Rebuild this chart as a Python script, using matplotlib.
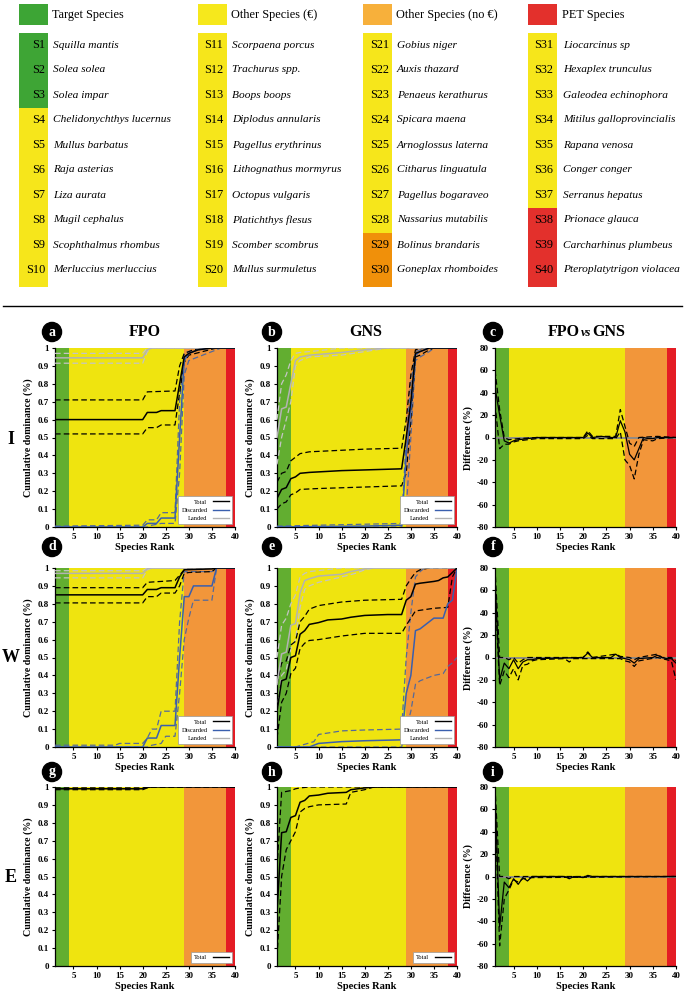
import matplotlib
matplotlib.use('Agg')
import matplotlib.pyplot as plt
from matplotlib.lines import Line2D
from matplotlib.patches import Rectangle

plt.rcParams['font.family'] = ['Liberation Serif', 'DejaVu Serif']

# ---------------- data ----------------
group_names = ['Target Species', 'Other Species (€)', 'Other Species (no €)', 'PET Species']
species = ['Squilla mantis', 'Solea solea', 'Solea impar', 'Chelidonychthys lucernus',
           'Mullus barbatus', 'Raja asterias', 'Liza aurata', 'Mugil cephalus',
           'Scophthalmus rhombus', 'Merluccius merluccius',
           'Scorpaena porcus', 'Trachurus spp.', 'Boops boops', 'Diplodus annularis',
           'Pagellus erythrinus', 'Lithognathus mormyrus', 'Octopus vulgaris',
           'Platichthys flesus', 'Scomber scombrus', 'Mullus surmuletus',
           'Gobius niger', 'Auxis thazard', 'Penaeus kerathurus', 'Spicara maena',
           'Arnoglossus laterna', 'Citharus linguatula', 'Pagellus bogaraveo',
           'Nassarius mutabilis', 'Bolinus brandaris', 'Goneplax rhomboides',
           'Liocarcinus sp', 'Hexaplex trunculus', 'Galeodea echinophora',
           'Mitilus galloprovincialis', 'Rapana venosa', 'Conger conger',
           'Serranus hepatus', 'Prionace glauca', 'Carcharhinus plumbeus',
           'Pteroplatytrigon violacea']
species_group = [0, 0, 0, 1, 1, 1, 1, 1, 1, 1,
                 1, 1, 1, 1, 1, 1, 1, 1, 1, 1,
                 1, 1, 1, 1, 1, 1, 1, 1, 2, 2,
                 1, 1, 1, 1, 1, 1, 1, 3, 3, 3]
# rank bands (x-range of each group in the panels)
band_edges = [1, 4, 29, 38, 40]

row_names = ['I', 'W', 'E']
col_titles = ['FPO', 'GNS']
panel_letters = ['a', 'b', 'c', 'd', 'e', 'f', 'g', 'h', 'i']

# cumulative dominance curves: (rank, value) breakpoints
fpo_I_total = [(1, .60), (20, .60), (21, .64), (23, .64), (24, .65), (27, .65), (28, .80), (29, .95), (30, .97), (32, .99), (35, 1), (40, 1)]
fpo_I_total_hi = [(1, .71), (20, .71), (21, .755), (27, .76), (28, .90), (29, .97), (31, .99), (34, 1), (40, 1)]
fpo_I_total_lo = [(1, .52), (20, .52), (21, .555), (23, .555), (24, .57), (27, .57), (28, .75), (29, .92), (30, .96), (33, .98), (36, 1), (40, 1)]
fpo_I_disc = [(1, 0), (20, 0), (21, .02), (23, .02), (24, .05), (27, .05), (28, .50), (29, .93), (30, .97), (32, .99), (35, 1), (40, 1)]
fpo_I_disc_hi = [(1, .005), (20, .01), (21, .04), (23, .04), (24, .08), (27, .08), (28, .70), (29, .97), (31, .99), (34, 1), (40, 1)]
fpo_I_disc_lo = [(1, 0), (21, 0), (22, .01), (24, .02), (27, .02), (28, .30), (29, .85), (30, .93), (32, .95), (35, .98), (37, 1), (40, 1)]
fpo_I_land = [(1, .945), (20, .945), (21, .99), (22, 1), (40, 1)]
fpo_I_land_hi = [(1, .97), (20, .97), (21, 1), (40, 1)]
fpo_I_land_lo = [(1, .915), (20, .915), (21, .98), (22, 1), (40, 1)]

gns_I_total = [(1, .16), (2, .21), (3, .22), (4, .27), (5, .28), (6, .30), (8, .305), (15, .315), (28, .325), (29, .50), (30, .70), (31, .97), (32, .98), (34, 1), (40, 1)]
gns_I_total_hi = [(1, .25), (2, .30), (3, .31), (4, .37), (5, .39), (6, .41), (8, .42), (20, .435), (28, .44), (29, .60), (30, .85), (31, .99), (33, 1), (40, 1)]
gns_I_total_lo = [(1, .10), (2, .13), (3, .14), (4, .18), (5, .19), (6, .21), (10, .215), (28, .23), (29, .30), (30, .60), (31, .95), (32, .96), (34, .99), (35, 1), (40, 1)]
gns_I_disc = [(1, 0), (20, .005), (28, .01), (29, .40), (30, .65), (31, .96), (32, .98), (34, 1), (40, 1)]
gns_I_disc_hi = [(1, .005), (10, .01), (28, .02), (29, .50), (30, .80), (31, .98), (33, 1), (40, 1)]
gns_I_disc_lo = [(1, 0), (28, 0), (29, .10), (30, .50), (31, .93), (32, .95), (34, .98), (35, 1), (40, 1)]
gns_I_land = [(1, .50), (2, .66), (3, .67), (4, .80), (5, .93), (6, .95), (8, .96), (15, .975), (20, .99), (25, 1), (40, 1)]
gns_I_land_hi = [(1, .60), (2, .80), (3, .85), (4, .93), (5, .97), (6, .975), (10, .985), (15, 1), (40, 1)]
gns_I_land_lo = [(1, .35), (2, .50), (3, .60), (4, .70), (5, .90), (6, .93), (8, .95), (15, .96), (20, .98), (25, 1), (40, 1)]

diff_I = [(1, 45), (2, 20), (3, -3), (4, -5), (5, -3), (6, -2), (8, -1), (10, 0), (20, 0), (21, 4), (22, 0), (24, 1), (26, 0), (27, 0), (28, 15), (29, 5), (30, -15), (31, -20), (32, -10), (33, 0), (34, -1), (35, -1), (36, 0), (40, 0)]
diff_I_hi = [(1, 60), (2, 25), (3, 0), (4, -2), (6, -1), (10, 0), (20, 0), (21, 6), (22, 1), (27, 1), (28, 25), (29, 10), (30, -5), (31, -8), (32, 0), (36, 1), (40, 0)]
diff_I_lo = [(1, 30), (2, -10), (3, -6), (4, -6), (5, -4), (6, -3), (8, -2), (10, -1), (20, -1), (21, 2), (22, -1), (27, -1), (28, 5), (29, -20), (30, -25), (31, -37), (32, -15), (33, -2), (35, -3), (36, -1), (40, 0)]

fpo_W_total = [(1, .85), (20, .85), (21, .88), (23, .88), (24, .89), (27, .89), (28, .95), (29, .99), (35, .995), (36, 1), (40, 1)]
fpo_W_total_hi = [(1, .89), (20, .89), (21, .92), (27, .93), (28, .96), (29, .99), (30, 1), (40, 1)]
fpo_W_total_lo = [(1, .805), (20, .805), (21, .84), (23, .84), (24, .86), (27, .86), (28, .90), (29, .97), (30, .975), (35, .98), (36, 1), (40, 1)]
fpo_W_disc = [(1, 0), (20, 0), (21, .05), (23, .05), (24, .12), (27, .12), (28, .50), (29, .84), (30, .84), (31, .90), (35, .90), (36, 1), (40, 1)]
fpo_W_disc_hi = [(1, .01), (14, .01), (15, .02), (20, .02), (21, .05), (22, .10), (23, .10), (24, .20), (27, .20), (28, .70), (29, .98), (35, .98), (36, 1), (40, 1)]
fpo_W_disc_lo = [(1, 0), (21, 0), (22, .01), (24, .02), (25, .06), (27, .06), (28, .30), (29, .60), (30, .72), (31, .82), (35, .82), (36, 1), (40, 1)]
fpo_W_land = [(1, .97), (20, .97), (21, .995), (22, 1), (40, 1)]
fpo_W_land_hi = [(1, .985), (20, .985), (21, 1), (40, 1)]
fpo_W_land_lo = [(1, .945), (20, .945), (21, .99), (22, 1), (40, 1)]

gns_W_total = [(1, .20), (2, .37), (3, .38), (4, .50), (5, .51), (6, .63), (7, .65), (8, .685), (10, .695), (12, .71), (15, .715), (17, .725), (20, .735), (25, .74), (28, .74), (29, .82), (30, .84), (31, .91), (32, .915), (35, .925), (36, .93), (37, .945), (38, .95), (39, .975), (40, 1)]
gns_W_total_hi = [(1, .35), (2, .47), (3, .48), (4, .57), (5, .59), (6, .70), (7, .73), (8, .77), (10, .79), (15, .81), (20, .82), (28, .825), (29, .90), (30, .94), (31, .975), (32, .99), (34, 1), (40, 1)]
gns_W_total_lo = [(1, .05), (2, .25), (3, .30), (4, .41), (5, .44), (6, .55), (7, .58), (8, .595), (10, .60), (15, .62), (20, .635), (28, .635), (29, .68), (30, .72), (31, .76), (35, .775), (38, .78), (39, .95), (40, 1)]
gns_W_disc = [(1, 0), (8, 0), (9, .01), (10, .02), (15, .03), (20, .035), (28, .04), (29, .30), (30, .40), (31, .65), (32, .66), (34, .70), (35, .72), (37, .72), (38, .80), (39, .82), (40, 1)]
gns_W_disc_hi = [(1, 0), (5, 0), (9, .03), (10, .07), (15, .09), (20, .095), (28, .10), (29, .50), (30, .75), (31, .95), (32, .98), (33, 1), (40, 1)]
gns_W_disc_lo = [(1, 0), (28, 0), (29, .10), (30, .20), (31, .35), (32, .37), (35, .40), (37, .41), (38, .45), (39, .47), (40, .50)]
gns_W_land = [(1, .35), (2, .52), (3, .53), (4, .68), (5, .69), (6, .86), (7, .93), (8, .94), (10, .955), (15, .965), (17, .98), (20, .995), (22, 1), (40, 1)]
gns_W_land_hi = [(1, .50), (2, .68), (3, .72), (4, .80), (5, .85), (6, .95), (7, .97), (8, .98), (15, 1), (40, 1)]
gns_W_land_lo = [(1, .20), (2, .40), (3, .43), (4, .55), (5, .60), (6, .78), (7, .88), (8, .90), (10, .92), (15, .95), (18, .97), (20, .99), (22, 1), (40, 1)]

diff_W = [(1, 70), (2, -20), (3, -5), (4, -10), (5, -2), (6, -10), (7, -4), (8, -2), (9, -2), (10, -1), (20, 0), (21, 4), (22, 0), (26, 0), (27, 3), (28, 0), (30, -2), (31, -5), (32, -1), (35, 0), (36, 2), (37, 0), (38, -1), (39, -1), (40, -5)]
diff_W_hi = [(1, 80), (2, 0), (3, 0), (4, -2), (5, 0), (6, -5), (7, -2), (8, 0), (20, 0), (21, 5), (22, 0), (27, 3), (28, 1), (30, 0), (31, -2), (32, 0), (36, 3), (37, 0), (39, 0), (40, -3)]
diff_W_lo = [(1, 60), (2, -25), (3, -12), (4, -18), (5, -10), (6, -20), (7, -7), (8, -6), (9, -3), (10, -2), (16, -1), (17, -4), (18, -1), (28, -1), (29, -3), (30, -4), (31, -8), (32, -3), (36, 0), (37, -1), (39, -3), (40, -20)]

fpo_E_total = [(1, .99), (20, .99), (21, .998), (22, 1), (40, 1)]
fpo_E_total_hi = [(1, .995), (20, .995), (21, 1), (40, 1)]
fpo_E_total_lo = [(1, .985), (20, .985), (21, .995), (22, 1), (40, 1)]

gns_E_total = [(1, .30), (2, .745), (3, .75), (4, .83), (5, .84), (6, .915), (7, .925), (8, .95), (10, .955), (12, .965), (16, .97), (17, .985), (20, .995), (22, 1), (40, 1)]
gns_E_total_hi = [(1, .55), (2, .97), (3, .975), (4, .98), (5, .99), (6, .995), (8, 1), (40, 1)]
gns_E_total_lo = [(1, .05), (2, .50), (3, .65), (4, .70), (5, .75), (6, .86), (7, .88), (8, .89), (10, .90), (16, .905), (17, .97), (20, .985), (22, 1), (40, 1)]

diff_E = [(1, 75), (2, -45), (3, -5), (4, -10), (5, -2), (6, -7), (7, -1), (8, -4), (9, 0), (16, 0), (17, -2), (18, 0), (20, -1), (21, 1), (22, 0), (40, 0)]
diff_E_hi = [(1, 80), (2, 0), (3, 0), (4, -2), (5, 0), (8, 0), (40, 0)]
diff_E_lo = [(1, 65), (2, -62), (3, -20), (4, -12), (5, -3), (6, -5), (7, -2), (9, -1), (40, 0)]

# ---------------- styling ----------------
band_colors = ['#62ae30', '#efe40f', '#f2963a', '#e41c24']
header_colors = ['#3da535', '#f6e81c', '#f7b03b', '#e3302c']
strip_colors = ['#3ea535', '#f6e61b', '#f0900a', '#e3302c']
c_total = 'black'
c_disc = '#3a5fae'
c_disc_d = '#55699a'
c_land = '#b3b3b3'
c_land_d = '#c4c4c4'

W, H = 685, 993
fig = plt.figure(figsize=(W / 100, H / 100), dpi=100)

base = fig.add_axes([0, 0, 1, 1])
base.set_xlim(0, W)
base.set_ylim(H, 0)
base.axis('off')

# ---------------- species table ----------------
box_x = [19, 198, 363, 528]
lab_x = [45, 223, 389, 553]
name_x = [53, 232, 397, 563]
for c in range(4):
    base.add_patch(Rectangle((box_x[c], 4), 29, 21, color=header_colors[c], lw=0))
    base.text(name_x[c] - 1, 15, group_names[c], fontsize=8.8, va='center', ha='left')
    for r in range(10):
        k = c * 10 + r
        y0 = 32.5 + 25 * r
        hgt = 25 if r < 9 else 29
        base.add_patch(Rectangle((box_x[c], y0), 29, hgt, color=strip_colors[species_group[k]], lw=0))
        base.text(lab_x[c], y0 + 12.5, 'S%d' % (k + 1), fontsize=8.8, va='center', ha='right')
        base.text(name_x[c], y0 + 12.5, species[k], fontsize=8.2, va='center', ha='left',
                  style='italic')
base.plot([3, 682], [306, 306], color='black', lw=1)

# ---------------- panels ----------------
col_l = [55, 277, 495]
col_r = [235, 457, 676]
row_t = [348, 568, 787]
row_b = [527, 747, 966]


def px_axes(l, t, r, b):
    return fig.add_axes([l / W, 1 - b / H, (r - l) / W, (b - t) / H])


def xy(pts):
    return [p[0] for p in pts], [p[1] for p in pts]


def setup(ax, ylim, yticks, ylabels, ylabel):
    for i in range(4):
        ax.axvspan(band_edges[i], band_edges[i + 1], color=band_colors[i], lw=0, zorder=0)
    ax.set_xlim(1, 40)
    ax.set_ylim(*ylim)
    ax.set_xticks([5, 10, 15, 20, 25, 30, 35, 40])
    ax.set_yticks(yticks)
    ax.set_yticklabels(ylabels)
    ax.tick_params(labelsize=6.5, length=2.5, width=0.8, pad=2)
    for t in ax.get_xticklabels() + ax.get_yticklabels():
        t.set_fontweight('bold')
    for s in ['top', 'right']:
        ax.spines[s].set_visible(False)
    for s in ['left', 'bottom']:
        ax.spines[s].set_linewidth(0.9)
    ax.set_xlabel('Species Rank', fontsize=7.5, fontweight='bold', labelpad=1)
    ax.set_ylabel(ylabel, fontsize=7.2, fontweight='bold', labelpad=3)


def line(ax, pts, color, dashed=False, lw=1.0):
    x, y = xy(pts)
    if dashed:
        ax.plot(x, y, color=color, lw=0.9, dashes=(4.5, 2.5), zorder=3)
    else:
        ax.plot(x, y, color=color, lw=lw, zorder=4)


cum_ticks = [i / 10 for i in range(11)]
cum_labels = ['0'] + ['0.%d' % i for i in range(1, 10)] + ['1']
diff_ticks = list(range(-80, 81, 20))
diff_labels = [str(v) for v in diff_ticks]

cum_sets = [
    [(fpo_I_total, fpo_I_total_hi, fpo_I_total_lo), (fpo_I_disc, fpo_I_disc_hi, fpo_I_disc_lo), (fpo_I_land, fpo_I_land_hi, fpo_I_land_lo)],
    [(gns_I_total, gns_I_total_hi, gns_I_total_lo), (gns_I_disc, gns_I_disc_hi, gns_I_disc_lo), (gns_I_land, gns_I_land_hi, gns_I_land_lo)],
    [(fpo_W_total, fpo_W_total_hi, fpo_W_total_lo), (fpo_W_disc, fpo_W_disc_hi, fpo_W_disc_lo), (fpo_W_land, fpo_W_land_hi, fpo_W_land_lo)],
    [(gns_W_total, gns_W_total_hi, gns_W_total_lo), (gns_W_disc, gns_W_disc_hi, gns_W_disc_lo), (gns_W_land, gns_W_land_hi, gns_W_land_lo)],
    [(fpo_E_total, fpo_E_total_hi, fpo_E_total_lo)],
    [(gns_E_total, gns_E_total_hi, gns_E_total_lo)],
]
diff_sets = [(diff_I, diff_I_hi, diff_I_lo), (diff_W, diff_W_hi, diff_W_lo), (diff_E, diff_E_hi, diff_E_lo)]
series_names = ['Total', 'Discarded', 'Landed']
series_colors = [(c_total, c_total), (c_disc, c_disc_d), (c_land, c_land_d)]

for r in range(3):
    for c in range(3):
        ax = px_axes(col_l[c], row_t[r], col_r[c], row_b[r])
        if c < 2:
            setup(ax, (0, 1), cum_ticks, cum_labels, 'Cumulative dominance (%)')
            sets = cum_sets[r * 2 + c]
            order = list(range(len(sets)))[::-1]
            for k in order:
                mid, hi, lo = sets[k]
                sc, dc = series_colors[k]
                line(ax, hi, dc, dashed=True)
                line(ax, lo, dc, dashed=True)
            for k in order:
                mid, hi, lo = sets[k]
                line(ax, mid, series_colors[k][0], lw=1.1)
            handles = [Line2D([], [], color=series_colors[k][0], lw=1.0) for k in range(len(sets))]
            leg = ax.legend(handles, series_names[:len(sets)], loc='lower right', fontsize=4.6,
                            markerfirst=False, handlelength=2.6, frameon=True, fancybox=False,
                            edgecolor='#999999', framealpha=1, borderaxespad=0.4,
                            labelspacing=0.45, borderpad=0.5)
            leg.get_frame().set_linewidth(0.5)
        else:
            setup(ax, (-80, 80), diff_ticks, diff_labels, 'Difference (%)')
            ax.axhline(0, color='#8a8a8a', lw=1.3, zorder=2)
            mid, hi, lo = diff_sets[r]
            line(ax, hi, 'black', dashed=True)
            line(ax, lo, 'black', dashed=True)
            line(ax, mid, 'black', lw=0.9)

# panel letters
letter_y = [332, 547, 772]
letter_x = [52, 272, 493]
for r in range(3):
    for c in range(3):
        base.text(letter_x[c], letter_y[r], panel_letters[r * 3 + c], color='white', fontsize=10,
                  fontweight='bold', ha='center', va='center',
                  bbox=dict(boxstyle='circle,pad=0.22', fc='black', ec='black'))

# column titles
base.text(145, 332, col_titles[0], fontsize=11.5, fontweight='bold', ha='center', va='center')
base.text(366, 332, col_titles[1], fontsize=11.5, fontweight='bold', ha='center', va='center')
base.text(580, 332, 'FPO', fontsize=11.5, fontweight='bold', ha='right', va='center')
base.text(586, 333, 'vs', fontsize=9, fontweight='bold', style='italic', ha='center', va='center')
base.text(592, 332, 'GNS', fontsize=11.5, fontweight='bold', ha='left', va='center')

# row labels
row_y = [440, 657, 877]
for r in range(3):
    base.text(11, row_y[r], row_names[r], fontsize=13, fontweight='bold', ha='center', va='center')

fig.savefig('out.png', dpi=100)
